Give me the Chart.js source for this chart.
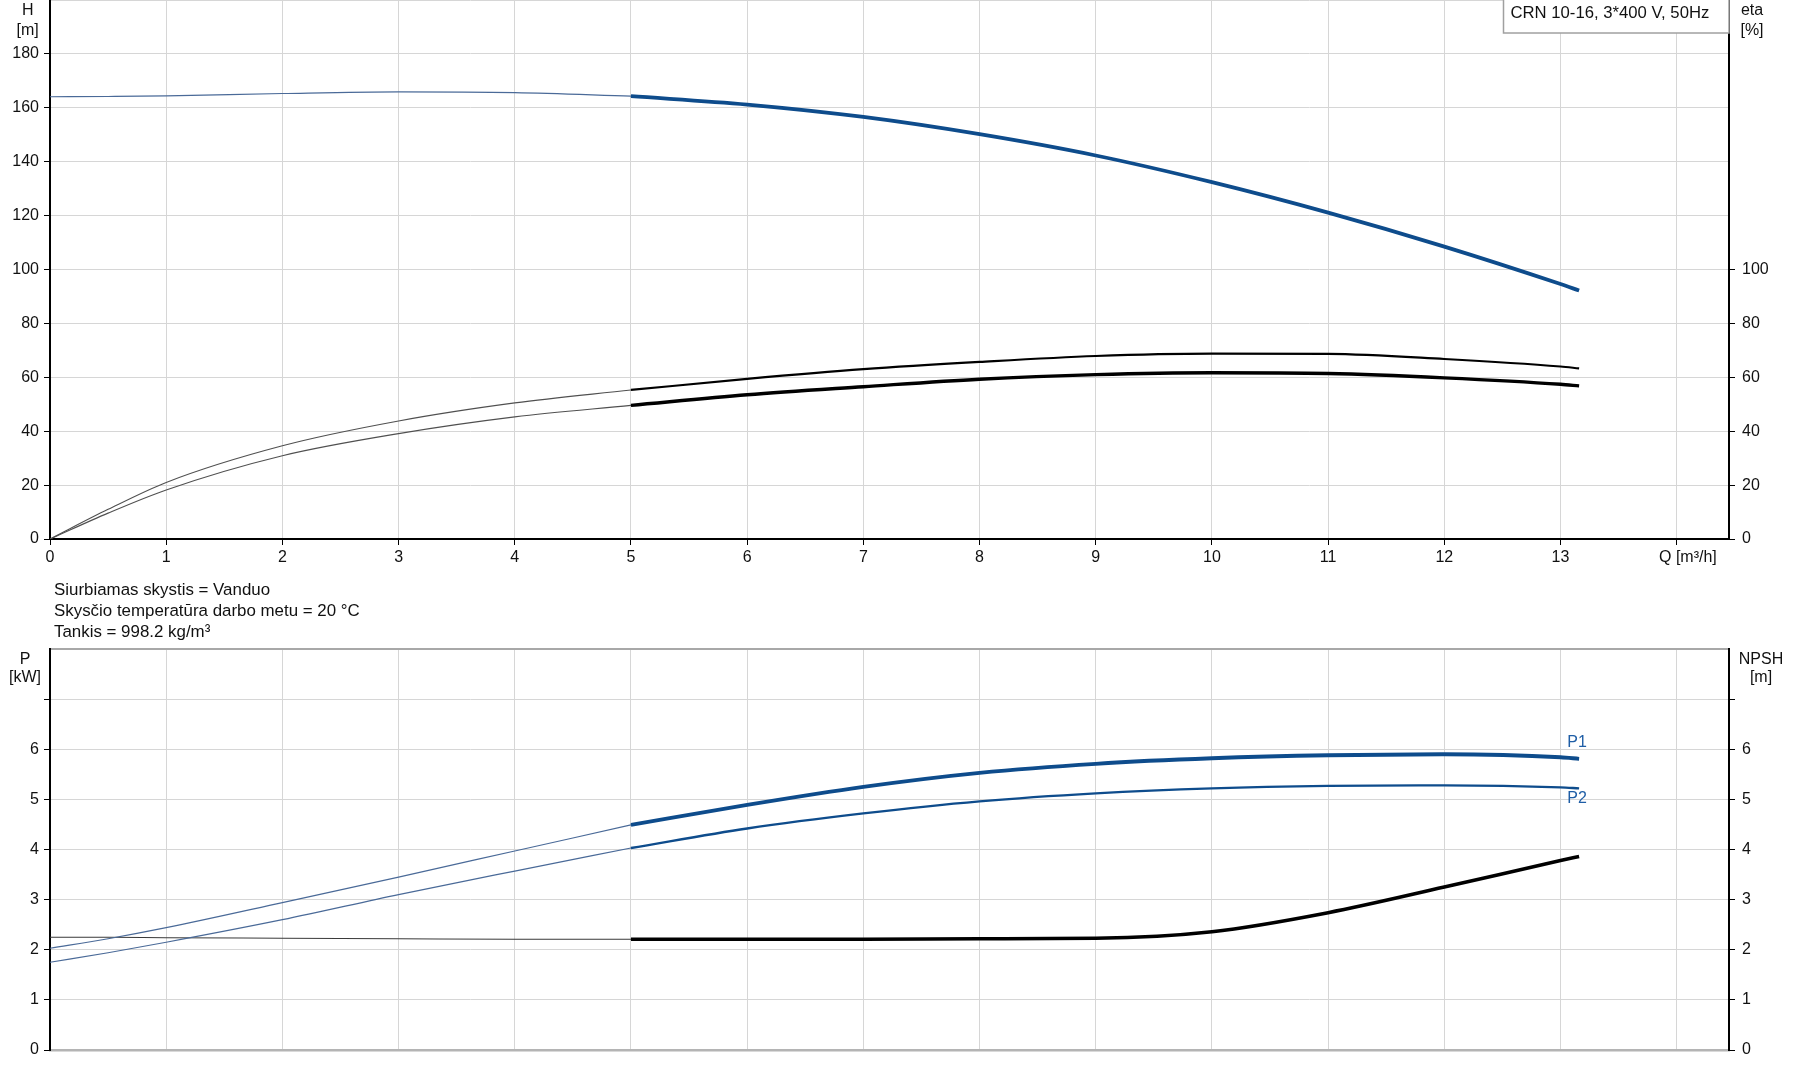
<!DOCTYPE html>
<html>
<head>
<meta charset="utf-8">
<script src="https://cdn.jsdelivr.net/npm/chart.js@4.4.1/dist/chart.umd.min.js"></script>
<style>
  html,body{margin:0;padding:0;background:#fff;}
  body{width:1795px;height:1081px;position:relative;overflow:hidden;font-family:Arial,"Liberation Sans",sans-serif;}
  canvas{position:absolute;left:0;}
  #top{top:0;}
  #bottom{top:640px;}
  #notes{position:absolute;left:54px;top:579px;font-size:16.9px;line-height:21px;color:#111;}
</style>
</head>
<body>
<canvas id="top" width="1795" height="580"></canvas>
<div id="notes">
  <div>Siurbiamas skystis = Vanduo</div>
  <div>Skysčio temperatūra darbo metu = 20 °C</div>
  <div>Tankis = 998.2 kg/m³</div>
</div>
<canvas id="bottom" width="1795" height="441"></canvas>
<script>
// flow points, thin (outside range) part and thick (working range) part
const qLow = [0, 0.5, 1, 2, 3, 4, 5];
const qHigh = [5, 6, 7, 8, 9, 10, 11, 12, 13, 13.16];

const headLow = [164.1, 164.2, 164.4, 165.3, 165.9, 165.6, 164.3];
const headHigh = [164.3, 161.2, 156.6, 150.2, 142.3, 132.4, 121.1, 108.5, 94.6, 92.2];
const etaPumpLow = [0, 11.0, 21.0, 34.6, 43.8, 50.5, 55.3];
const etaPumpHigh = [55.3, 59.4, 63.0, 65.7, 67.9, 68.8, 68.7, 66.8, 64.0, 63.3];
const etaTotalLow = [0, 9.6, 18.2, 30.9, 39.1, 45.3, 49.6];
const etaTotalHigh = [49.6, 53.5, 56.5, 59.3, 61.0, 61.7, 61.4, 59.8, 57.4, 56.8];

const p1Low = [2.03, 2.22, 2.44, 2.94, 3.45, 3.97, 4.49];
const p1High = [4.49, 4.89, 5.25, 5.53, 5.71, 5.82, 5.88, 5.90, 5.84, 5.81];
const p2Low = [1.75, 1.94, 2.15, 2.60, 3.10, 3.57, 4.03];
const p2High = [4.03, 4.42, 4.72, 4.96, 5.12, 5.22, 5.27, 5.28, 5.24, 5.22];
const npshLow = [2.25, 2.25, 2.24, 2.23, 2.22, 2.21, 2.21];
const npshHigh = [2.21, 2.21, 2.21, 2.22, 2.23, 2.36, 2.74, 3.25, 3.78, 3.86];

const qTicks = [0,1,2,3,4,5,6,7,8,9,10,11,12,13,14];
const headTicks = [0,20,40,60,80,100,120,140,160,180,200];
const etaTicks = [0,20,40,60,80,100];
const powerTicks = [0,1,2,3,4,5,6,7,8];
const npshTicks = [0,1,2,3,4,5,6,7];

const FONT_FAMILY = 'Arial, "Liberation Sans", sans-serif';
const TEXT = '#111';
const GRID = '#d6d6d6';
const BLUE = '#0e4c8c';

const pts = (xs, ys) => xs.map((x, i) => ({x, y: ys[i]}));
const setTicks = list => scale => { scale.ticks = list.map(value => ({value})); };
const tickFont = {family: FONT_FAMILY, size: 16};

const curve = (data, color, width, axis) => ({
  data, borderColor: color, borderWidth: width, yAxisID: axis,
  pointRadius: 0, cubicInterpolationMode: 'monotone', fill: false
});

const overlay = {
  id: 'overlay',
  afterDraw(chart, args, opts) {
    const c = chart.ctx;
    c.save();
    if (opts.box) {
      const b = opts.box;
      c.fillStyle = '#fff';
      c.fillRect(b.x, b.y, b.w, b.h);
      c.strokeStyle = '#a0a0a0';
      c.lineWidth = 1.5;
      c.strokeRect(b.x, b.y, b.w, b.h);
    }
    const texts = typeof opts.texts === 'function' ? opts.texts(chart) : opts.texts;
    texts.forEach(t => {
      c.font = (t.size || 16) + 'px ' + FONT_FAMILY;
      c.fillStyle = t.color || TEXT;
      c.textAlign = t.align || 'center';
      c.textBaseline = 'middle';
      c.fillText(t.text, t.x, t.y);
    });
    c.restore();
  }
};

const xScale = (showLabels, height) => ({
  type: 'linear', min: 0, max: 14.45,
  afterBuildTicks: setTicks(qTicks),
  afterFit: s => { s.height = height; s.paddingLeft = 0; s.paddingRight = 0; },
  grid: {color: GRID, lineWidth: 1, tickColor: '#000', tickLength: showLabels ? 6 : 0, drawTicks: showLabels},
  border: showLabels ? {color: '#000', width: 2} : {color: '#b4b4b4', width: 2.5},
  ticks: {display: showLabels, padding: 3, color: TEXT, font: tickFont, maxRotation: 0,
    callback: v => v === 14 ? '' : String(v)}
});

const yScale = (opts) => ({
  type: 'linear', position: opts.position, min: opts.min, max: opts.max,
  afterBuildTicks: setTicks(opts.ticks),
  afterFit: s => { s.width = opts.width; s.paddingTop = 0; s.paddingBottom = 0; },
  grid: {
    drawOnChartArea: opts.grid,
    color: ctx => (opts.topLine && ctx.tick && ctx.tick.value === opts.max) ? '#a8a8a8' : GRID,
    lineWidth: ctx => (opts.topLine && ctx.tick && ctx.tick.value === opts.max) ? 2 : 1,
    tickColor: ctx => (ctx.tick && ctx.tick.value > opts.tickMax) ? 'rgba(0,0,0,0)' : '#000',
    tickLength: 6
  },
  border: {color: '#000', width: 2},
  ticks: {padding: opts.position === 'left' ? 5 : 7, color: TEXT, font: tickFont,
    callback: v => v > opts.labelMax ? '' : String(v)}
});

new Chart(document.getElementById('top'), {
  type: 'line',
  data: {
    datasets: [
      curve(pts(qHigh, headHigh), BLUE, 3.8, 'y'),
      curve(pts(qLow, headLow), '#4a6a98', 1.2, 'y'),
      curve(pts(qHigh, etaTotalHigh), '#000', 3.4, 'eta'),
      curve(pts(qLow, etaTotalLow), '#505050', 1.1, 'eta'),
      curve(pts(qHigh, etaPumpHigh), '#000', 2.2, 'eta'),
      curve(pts(qLow, etaPumpLow), '#505050', 1.1, 'eta')
    ]
  },
  options: {
    responsive: false, animation: false,
    layout: {padding: 0, autoPadding: false},
    plugins: {
      legend: {display: false}, tooltip: {enabled: false},
      overlay: {
        box: {x: 1503.5, y: -1, w: 225.5, h: 34},
        texts: [
          {text: 'H', x: 27.7, y: 11},
          {text: '[m]', x: 27.7, y: 31},
          {text: 'eta', x: 1752, y: 11},
          {text: '[%]', x: 1752, y: 31},
          {text: 'CRN 10-16, 3*400 V, 50Hz', x: 1510.5, y: 13, align: 'left', size: 16.7},
          {text: 'Q [m³/h]', x: 1659, y: 558, align: 'left'}
        ]
      }
    },
    scales: {
      x: xScale(true, 41),
      y: yScale({position: 'left', min: 0, max: 200, ticks: headTicks, width: 50, grid: true, tickMax: 180, labelMax: 180}),
      eta: yScale({position: 'right', min: 0, max: 200, ticks: etaTicks, width: 66, grid: false, tickMax: 100, labelMax: 100})
    }
  },
  plugins: [overlay]
});

new Chart(document.getElementById('bottom'), {
  type: 'line',
  data: {
    datasets: [
      curve(pts(qHigh, p1High), BLUE, 3.8, 'y'),
      curve(pts(qLow, p1Low), '#4a6a98', 1.2, 'y'),
      curve(pts(qHigh, p2High), BLUE, 2.4, 'y'),
      curve(pts(qLow, p2Low), '#4a6a98', 1.2, 'y'),
      curve(pts(qHigh, npshHigh), '#000', 3.6, 'npsh'),
      curve(pts(qLow, npshLow), '#3a3a3a', 1.1, 'npsh')
    ]
  },
  options: {
    responsive: false, animation: false,
    layout: {padding: {top: 9, left: 0, right: 0, bottom: 0}, autoPadding: false},
    plugins: {
      legend: {display: false}, tooltip: {enabled: false},
      overlay: {
        texts: chart => {
          const xs = chart.scales.x, ys = chart.scales.y;
          const endX = xs.getPixelForValue(qHigh[qHigh.length - 1]);
          return [
            {text: 'P', x: 25, y: 20},
            {text: '[kW]', x: 25, y: 38},
            {text: 'NPSH', x: 1761, y: 20},
            {text: '[m]', x: 1761, y: 38},
            {text: 'P1', x: endX - 2, y: ys.getPixelForValue(p1High[p1High.length - 1]) - 16, color: '#1f5ea6'},
            {text: 'P2', x: endX - 2, y: ys.getPixelForValue(p2High[p2High.length - 1]) + 10, color: '#1f5ea6'}
          ];
        }
      }
    },
    scales: {
      x: xScale(false, 31),
      y: yScale({position: 'left', min: 0, max: 8, ticks: powerTicks, width: 50, grid: true, topLine: true, tickMax: 7, labelMax: 6}),
      npsh: yScale({position: 'right', min: 0, max: 8, ticks: npshTicks, width: 66, grid: false, tickMax: 7, labelMax: 6})
    }
  },
  plugins: [overlay]
});
</script>
</body>
</html>
